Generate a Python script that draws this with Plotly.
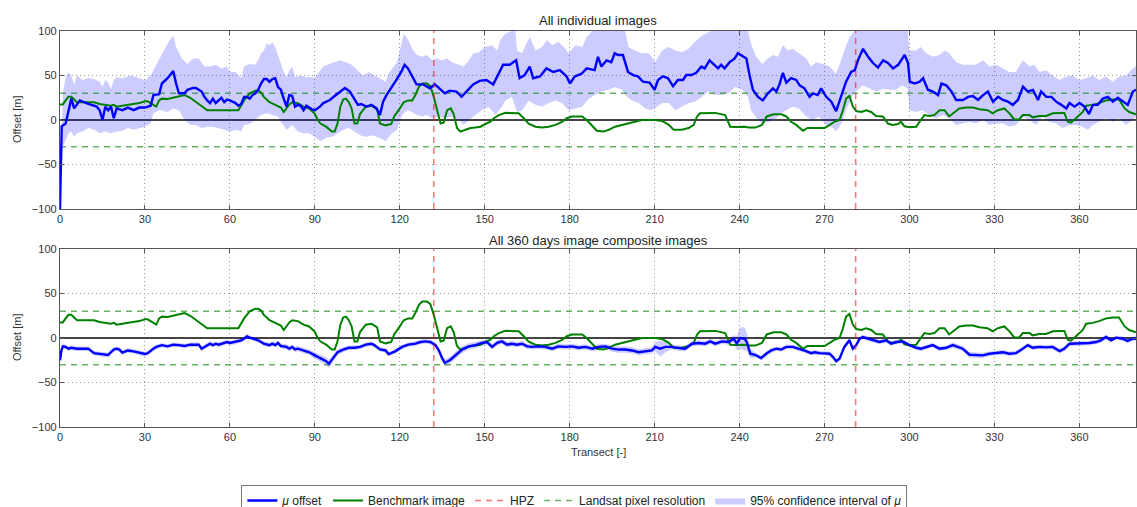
import plotly.graph_objects as go

# ---------------- data ----------------
transect_range = [0, 380]
hpz_positions = [132, 281]
landsat_res = 30

# Benchmark image offset (same in both panels)
bench_t = [0, 1, 2, 3, 4, 5, 6, 8, 10, 12,
           14, 16, 18, 19, 20, 22, 24, 26, 28, 30,
           31, 32, 34, 35, 36, 38, 40, 42, 44, 46,
           48, 50, 52, 63, 65, 67, 69, 70, 71, 72,
           74, 76, 78, 79, 80, 81, 82, 84, 86, 88,
           90, 91, 92, 94, 96, 97, 98, 99, 100, 101,
           102, 103, 104, 105, 106, 108, 110, 112, 113, 115,
           117, 118, 120, 121.4, 123, 124.4, 125.5, 126.7, 127.9, 129.6,
           130.8, 132, 133.2, 134.4, 135.5, 136.7, 138, 139, 140.2, 141.4,
           143.2, 145, 146.7, 148.5, 150.2, 152, 153.2, 155, 157.3, 159.6,
           162, 163.8, 165.5, 167.9, 170.2, 172.6, 175, 177.3, 179, 180.8,
           184.4, 186, 188, 189.6, 192, 193.8, 196, 198.5, 202, 205.5,
           210.2, 212.6, 215, 216.7, 219.6, 222, 223.8, 225, 226, 229,
           231.4, 234.9, 236.7, 238.5, 242, 243.2, 245.6, 247.9, 249.6, 252,
           254.7, 256.5, 258.2, 260, 262.4, 264, 270, 271.8, 273.5, 275.3,
           276.5, 277.6, 278.8, 280, 281.2, 283, 284.7, 286.5, 288.2, 290.6,
           292.4, 294, 296, 297, 298.2, 300, 302.4, 304, 305.3, 307,
           308.8, 310.6, 312.4, 314, 316, 317.6, 320, 322.4, 324.7, 327.6,
           329.4, 331.2, 333.5, 335.3, 337, 338.8, 340, 342.4, 343.5, 345.9,
           348.2, 350.6, 353, 354.7, 355.9, 357, 358.8, 361.2, 362.4, 364.7,
           367, 369.4, 371.8, 374, 376, 377.6, 380]
bench_v = [17.5, 17.5, 22, 26, 26, 23, 20, 20, 20, 20,
           18, 17, 16, 17, 15, 16, 17, 18, 19, 21,
           21, 19, 15, 22, 24, 23.5, 25, 27, 28, 25,
           20, 16, 11, 11, 22, 30, 33, 33, 31, 26,
           20, 17, 14, 9, 14, 17.5, 20, 19, 15, 13,
           7, 0, -4, -7.5, -13, -13, -4, 15, 23, 24,
           20, 13, -4, -4, 7, 15, 16, 12, -4, -6,
           -4.5, 4, 13, 20, 22, 22, 28, 37, 41, 41,
           38, 26, 11, -4, -3, 11, 13, 7, -9, -13,
           -11, -9, -8.5, -7.5, -4.5, -2, 2, 5.5, 8, 8,
           7.5, 2, -4, -7.5, -8.5, -7.5, -5.5, -2, 2, 4,
           4, 0, -7, -12, -13, -11, -7.5, -5.5, -2, 0,
           0, -1, -5.5, -11, -11, -9, -5.5, 4, 7.5, 8,
           8, 5.5, -7.5, -8, -7.5, -8.5, -8.5, -5.5, 4, 6.5,
           6.5, 4, -2, -5.5, -12, -9, -9, -5.5, -2, 0,
           11, 24, 27, 15, 10, 9, 11, 9, 4.5, 4,
           -4, -5.5, -4.5, -2, -7, -8, -7.5, 0, 5.5, 4.5,
           5.5, 11, 11, 4, 9, 13, 14, 14, 12, 11,
           7.5, 11, 13, 7.5, 0.7, 0.7, 5.5, 5.5, 3, 4.5,
           4.5, 7.5, 8, 8, -2, -3, 2, 9, 16, 17,
           19, 22, 23, 23, 13, 9, 6.5]

# Top panel: mean offset (mu) of all individual images
top_mu_t = [0, 0.6, 2, 4, 5, 7, 10, 12, 13, 14,
            15, 16, 17, 18, 19, 20, 22, 24, 26, 28,
            30, 32, 33, 35, 36, 38, 40, 41, 42, 44,
            45, 47, 48, 50, 51, 52, 53, 54, 55, 56,
            57, 58, 59, 60, 62, 63, 64, 65, 66, 67,
            68, 69, 70, 71, 72, 73, 74, 75, 76, 77,
            78, 79, 80, 81, 82, 83, 84, 85, 86, 87,
            88, 89, 90, 91.8, 93, 95.3, 97, 98.8, 100.6, 102.4,
            104, 105.2, 106.4, 108.2, 110, 111.8, 113, 114.1, 115.3, 117,
            118.8, 120.5, 121.7, 122.9, 124.7, 125.9, 128.3, 130.6, 132.4, 134.1,
            135.9, 137.6, 140, 141.8, 143.5, 145.9, 148.2, 150.6, 153, 154.2,
            156.5, 158.8, 161.1, 162.3, 164.1, 165.9, 167.1, 169.5, 171.8, 174.2,
            176.5, 178.9, 180.1, 181.8, 184.2, 186, 188.8, 190, 191.2, 193,
            194.7, 195.9, 197.1, 198.8, 200.6, 202.4, 204.1, 205.9, 208.2, 210,
            211.2, 212.9, 214.7, 216.5, 218.2, 220, 221.2, 223, 224.7, 226.5,
            227.7, 229.4, 231.2, 232.4, 233.5, 234.7, 236.5, 238.2, 239.4, 241.2,
            242.4, 243.5, 244.7, 246.5, 248.2, 250, 251.8, 253, 254.1, 255.3,
            256.5, 258.2, 260, 261.2, 262.9, 264.7, 265.9, 267.6, 268.8, 270.6,
            272.4, 274.1, 275.9, 277.6, 279.4, 280.7, 281.8, 283.6, 285.4, 287.1,
            288.9, 290.7, 292.4, 294.2, 296, 298.3, 299.5, 300.1, 301.8, 303.6,
            304.8, 306.5, 308.3, 310.1, 311.3, 313, 314.8, 316.5, 318.9, 320.7,
            322.4, 324.2, 326, 327.7, 329.5, 331.3, 333, 334.8, 336.5, 338.3,
            340.1, 341.8, 343.6, 345.4, 346.5, 348.3, 350.1, 351.8, 353.6, 355.4,
            356.5, 358.3, 360.1, 361.8, 363.4, 364.8, 366.5, 368.3, 370.1, 371.8,
            373.6, 375.4, 377.1, 378.9, 380]
top_mu_v = [-100, -7, -4, 24, 13, 22, 18, 16, 15, 11,
            0, 15, 11, 15, 2, 13, 11, 14, 11, 14,
            14, 16, 28, 29, 41, 47, 55, 41, 30, 30,
            34, 36, 36, 32, 26, 22, 19, 24, 19, 22,
            25, 20, 23, 22, 19, 16, 18, 26, 26, 24,
            28, 30, 34, 41, 46, 46, 43, 46, 47, 37,
            34, 24, 15, 28, 27, 15, 17, 16, 11, 16,
            14, 12, 11, 15, 19, 22.5, 27, 32, 36, 32,
            22.5, 17, 18, 15, 17, 13, 5.6, 20.6, 28, 35.6,
            45, 54, 62, 58, 47, 40, 40, 35.6, 40, 35.6,
            30, 33, 32, 26, 32, 40, 44, 45, 40, 47,
            62, 62, 67, 47, 50.5, 60, 47, 49, 58, 54,
            56, 49, 41, 49, 52, 58, 56, 71, 60, 67,
            65, 75, 73, 73, 54, 50.5, 49, 43, 42, 34,
            45, 49, 47, 38, 45, 45, 50.5, 50.5, 53, 60,
            58, 67, 62, 58, 62, 58, 65, 69, 75, 71,
            69, 50.5, 34, 26, 22, 30, 35.6, 32, 40, 53,
            42, 47, 45, 39, 35.6, 26, 30, 28, 35.6, 26,
            20.6, 10, 28, 43, 54, 56, 67, 80, 71, 64,
            59, 67, 64, 58, 62, 73, 64, 43, 41, 43,
            47, 34, 32, 28, 41, 39, 32, 22.5, 22.5, 26,
            27, 22.5, 28, 32, 20.6, 26, 22.5, 20.6, 17, 22.5,
            37.5, 32, 33.7, 22.5, 32, 26, 26, 20.6, 17, 13,
            19, 15, 19, 15, 6.7, 17, 17, 24, 26, 20.6,
            25, 20.6, 17, 32, 34]

# Top panel: 95% confidence interval of mu (upper / lower bounds)
top_hi_t = [0, 1, 2, 3, 4, 5, 6, 8, 10, 12,
            14, 15, 16, 17, 18, 19, 20, 22, 25, 28,
            30, 32, 34, 36, 38, 40, 41, 43, 45, 47,
            49, 51, 53, 55, 57, 59, 60, 62, 64, 65,
            67, 69, 70, 71, 72, 73, 74, 75, 76, 77,
            78, 79, 80, 81, 82, 83, 85, 87, 89, 90,
            91, 93, 95, 97, 99, 101, 103, 105, 107, 109,
            111, 113, 115, 116, 118, 119, 120.2, 121.4, 123, 124.4,
            126, 128, 129.6, 131.4, 133, 135, 136.7, 138.5, 140.8, 142.6,
            144.4, 146, 148, 150, 152.6, 154.4, 155.5, 157.3, 159.6, 160.8,
            161.4, 163.2, 165, 166, 167.9, 170.2, 172, 173.8, 176, 177.9,
            179.6, 182, 184.4, 186, 188, 199.6, 200.8, 203, 205.5, 208,
            210.2, 212.6, 215, 217.3, 219.6, 222, 224.3, 226, 228, 230,
            243, 244, 245.9, 248, 250, 251.8, 253.5, 255.3, 257, 258.8,
            261, 263.5, 265.3, 267, 269.4, 271.8, 274, 275.3, 277, 278.8,
            280.6, 299.4, 300, 302.4, 304, 305.9, 308.2, 310.6, 312.4, 314,
            316.5, 318.8, 321, 323.5, 326, 328.2, 330.6, 333, 335.3, 337.6,
            340, 342.4, 344, 346, 348.2, 350.6, 353, 355.3, 357.6, 360,
            362.4, 364.7, 367, 369.4, 371.8, 374, 376.5, 378.8, 380]
top_hi_v = [-100, 30, 48, 54, 50, 39, 50, 45, 47, 46,
            43, 37, 45, 42, 35, 45, 48, 47, 50, 47,
            45, 50, 62, 73, 86, 95, 82, 69, 63, 69,
            69, 60, 60, 62, 58, 60, 54, 54, 47, 60,
            63, 62, 67, 75, 78, 86, 84, 87, 82, 73,
            62, 54, 48, 56, 60, 48, 50, 48, 48, 47,
            52, 60, 63, 65, 67, 65, 62, 56, 50, 54,
            50, 47, 43, 52, 60, 65, 80, 97, 90, 80,
            73, 71, 73, 67, 69, 67, 69, 65, 62, 60,
            67, 75, 76, 82, 84, 78, 90, 97, 100, 100,
            78, 75, 88, 93, 78, 82, 90, 84, 88, 82,
            75, 84, 82, 93, 100, 100, 82, 78, 75, 75,
            65, 78, 82, 78, 76, 80, 88, 93, 97, 100,
            100, 86, 71, 63, 69, 73, 71, 84, 78, 80,
            75, 69, 60, 65, 63, 60, 52, 62, 78, 93,
            100, 100, 78, 78, 82, 75, 71, 73, 78, 75,
            65, 62, 62, 62, 67, 60, 62, 58, 54, 54,
            67, 60, 62, 54, 56, 50, 45, 49, 50, 45,
            47, 50, 45, 49, 43, 49, 50, 58, 60]
top_lo_t = [0, 1, 2, 3, 4, 5, 6, 8, 10, 12,
            14, 16, 18, 20, 22, 24, 26, 28, 30, 32,
            33, 35, 36, 38, 40, 42, 44, 46, 48, 50,
            52, 54, 56, 58, 60, 62, 64, 65, 67, 69,
            71, 73, 75, 77, 78, 80, 82, 84, 86, 88,
            90, 92, 94, 96, 98, 100, 102, 104, 106, 108,
            110, 112, 114, 115, 116, 117.3, 119, 120.8, 122.6, 124.4,
            126, 128, 129.6, 131.4, 133.8, 136, 138.5, 140.8, 142.6, 144.4,
            146.7, 149, 151.4, 153.8, 156, 157.3, 159.6, 161.4, 163.2, 165.5,
            167.9, 170.2, 172.6, 175, 177.3, 179.6, 182, 184.4, 186.7, 189,
            191.4, 193.8, 196, 198.5, 200.2, 202, 204.4, 206.7, 209, 210.8,
            212.6, 215, 217.3, 219.6, 222, 224.3, 226.7, 229, 231.4, 233.8,
            236, 238.5, 240.8, 243, 244, 246, 248, 250.6, 253, 254.7,
            256.5, 258.8, 261, 263.5, 265.9, 268, 270.6, 273, 274, 276,
            277.6, 280, 281.8, 283.5, 285.9, 288.2, 290.6, 293, 295.3, 297.6,
            299.4, 300, 302.4, 304.7, 307, 309.4, 311.8, 314, 316.5, 318.8,
            321, 323.5, 326, 328.2, 330.6, 333, 335.3, 337.6, 340, 342.4,
            344.7, 347, 349.4, 351.8, 354, 356.5, 358.8, 361.2, 363, 364.7,
            367, 369.4, 371.8, 374, 376.5, 378.8, 380]
top_lo_v = [-100, -30, -22, -15, -13, -19, -15, -13, -9, -11,
            -15, -13, -15, -13, -12, -9, -11, -9, -7.5, -4,
            7.5, 11, 11, 9, 13, 11, 0, -5.5, -5.5, -9,
            -7.5, -7.5, -9, -11, -13, -11, -13, -5.5, -4.5, 0,
            5.5, 7.5, 5.5, 4, -2, -11, -5.5, -13, -15, -15,
            -19, -24, -20, -19, -15, -11, -9, -13, -17, -19,
            -17, -19, -22, -24, -20, -15, -11, 5.5, 11, 9,
            5.5, 4, 5.5, 2, 4, 2, 4, 0, -5.5, 0,
            5.5, 11, 15, 5.5, 15, 22, 26, 9, 11, 22,
            17, 15, 19, 22, 19, 11, 13, 15, 24, 28,
            32, 34, 37, 34, 26, 22, 19, 13, 11, 15,
            19, 19, 11, 15, 19, 20.5, 26, 32, 28, 28,
            30, 37, 34, 26, 11, 2, -4, -2, 2, 7.5,
            11, 15, 13, 4, 0, 4, -5.5, -9, -13, -4,
            11, 28, 34, 39, 35, 32, 35, 34, 34, 39,
            35, 11, 9, 11, 5.5, 2, 5.5, 2, -5.5, -4,
            -2, -4, 0, -5.5, -4, -4, -7.5, -5.5, 4, 0,
            -5.5, 4, -2, -4, -9, -5.5, -5.5, -7.5, -11, -5.5,
            -2, 2, -2, 2, -5.5, 0, 4]

# Bottom panel: mean offset (mu) of the 360-day composites and CI half width
bot_t = [0, 0.5, 1, 2, 3, 4, 6, 8, 10, 12,
         14, 16, 17, 18, 19, 20, 21, 22, 23, 24,
         26, 28, 29, 30, 31, 32, 33, 34, 35, 36,
         38, 40, 42, 44, 46, 48, 49, 50, 51, 52,
         53, 54, 55, 56, 58, 59, 60, 62, 64, 65,
         66, 67, 68, 70, 72, 74, 75, 76, 77, 78,
         80, 81, 82, 83, 84, 86, 88, 90, 92, 94,
         95, 96, 97, 98, 100, 102, 104, 106, 108, 110,
         111, 112, 113, 115, 116, 117, 118.5, 120.8, 123, 125.5,
         127.3, 129, 130.8, 132.6, 133.8, 135, 135.9, 137.9, 140.2, 142,
         144.4, 146.7, 149, 150.8, 152.6, 154.4, 156.1, 157.9, 159.6, 161.4,
         163.2, 165, 166.7, 169, 171.4, 173.8, 176, 178.5, 180.8, 183.2,
         185.5, 188, 190.2, 192.6, 195, 197.3, 199.6, 202, 204.4, 206.7,
         209, 210.2, 212, 213.8, 216, 218.5, 220.8, 223.2, 225.5, 227.9,
         229.6, 231.4, 233.8, 236.1, 237.9, 239, 240.2, 241.8, 242.6, 243.8,
         245.9, 247.6, 249.4, 251.2, 253, 254.7, 256.5, 258.8, 261, 263.5,
         265.3, 266.5, 268.2, 270, 271.8, 273, 274.1, 275.3, 277, 278.8,
         280, 281.2, 282.4, 283.5, 285.3, 287, 289.4, 291.8, 293.5, 295.3,
         297.6, 300, 302.4, 304.1, 305.9, 308.2, 310.6, 313, 315.3, 317,
         318.8, 321.2, 323.5, 325.9, 328.2, 330.6, 333, 335.3, 337.6, 340,
         341.8, 343.5, 345.9, 348.2, 350.6, 353, 354.7, 356.5, 358.8, 361.2,
         363.5, 365.9, 367.6, 369.4, 371.2, 373, 375.3, 377, 378.8, 380]
bot_mu = [-25, -14, -9.4, -10, -12, -11, -12, -12, -12, -17,
          -18, -19, -19, -16, -13, -12, -13, -16.5, -15, -14,
          -15, -16.5, -18, -18, -17, -14, -12, -10, -9.4, -8,
          -9.4, -7.5, -8, -9, -7.5, -8, -7.5, -12, -10, -8,
          -6.4, -8, -6.4, -7.5, -5.6, -4.5, -5.6, -4.5, -2.6, -0.8,
          1.9, 0.4, -0.8, -2.6, -6.4, -8, -6.4, -8, -5.6, -9,
          -10, -12, -10, -12.8, -12, -14, -16, -19.5, -23, -26,
          -29, -25, -20.7, -16, -13, -11, -11, -10, -7.5, -6.4,
          -8, -10, -12.8, -14, -18, -17, -14.7, -10, -7.5, -6.4,
          -4.5, -3.8, -4.5, -8, -14, -23, -28, -24.4, -18.4, -13,
          -9.4, -8, -5.6, -4.5, -10, -5.3, -3.8, -7.5, -6.4, -7.5,
          -6.4, -9.4, -10, -9.4, -10, -12, -9.4, -10, -9.4, -11,
          -10, -12, -10, -9.4, -12, -13, -13, -14, -16, -14.7,
          -14, -10, -12, -10, -10, -11.3, -12, -6.4, -5.6, -6.4,
          -3.8, -6.4, -3.8, -4.5, -0.8, -6, 0, -0.8, -5, -17.7,
          -19.5, -22.6, -17.7, -14, -12, -13, -10, -10, -12, -14.7,
          -17, -16, -17, -17, -17.7, -21.4, -26, -23.3, -10, -2.6,
          -12, -8, -0.8, 1.1, -0.8, -2.6, -4.5, -2.6, -6.4, -4.5,
          -3.8, -8, -11, -12, -10, -8, -12, -11, -8, -10,
          -12, -18.8, -18.8, -19.5, -17.7, -17, -16, -17.7, -17, -12,
          -8, -11, -10, -10.5, -10, -14.7, -12, -6.4, -6.4, -6.4,
          -5.6, -4.5, -2.6, 1.1, -2.6, 0.4, -0.8, -3.4, -0.8, -0.8]
bot_ci_hw = [3, 3, 3, 2.5, 2.5, 2.5, 2.5, 2.5, 2.5, 2.5,
             2.5, 2.5, 2.5, 2.5, 2.5, 2.5, 2.5, 2.5, 2.5, 2.5,
             2.5, 2.5, 2.5, 2.5, 2.5, 2.5, 2.5, 2.5, 2.5, 2.5,
             2.5, 2.5, 2.5, 2.5, 2.5, 2.5, 2.5, 2.5, 2.5, 2.5,
             2.5, 2.5, 2.5, 2.5, 2.5, 2.5, 2.5, 2.5, 2.5, 2.5,
             2.5, 2.5, 2.5, 2.5, 2.5, 2.5, 2.5, 2.5, 2.5, 2.5,
             3, 3, 3, 3, 3, 3, 3, 3.5, 4, 4.5,
             4.5, 4, 3.5, 3, 3, 2.5, 2.5, 2.5, 2.5, 2.5,
             2.5, 2.5, 2.5, 2.5, 2.5, 2.5, 2.5, 2.5, 2.5, 2.5,
             2.5, 2.5, 2.5, 2.5, 3, 3.5, 4, 4, 4, 4,
             3.5, 3.5, 3, 3, 3, 3, 3, 3, 3, 3,
             3, 3, 3, 3, 3, 3, 3, 3, 3, 3,
             3, 3, 3, 3, 3.5, 3.5, 3.5, 3.5, 3.5, 3.5,
             3.5, 5, 9, 6, 3, 3, 3, 3, 3, 3,
             3, 3, 3, 3, 4, 8, 12, 13, 10, 5,
             2.5, 2.5, 2.5, 2.5, 2.5, 2.5, 2.5, 2.5, 2.5, 2.5,
             2.5, 2.5, 2.5, 2.5, 2.5, 2.5, 2.5, 2.5, 2.5, 2.5,
             2.5, 2.5, 2.5, 2.5, 2.5, 2.5, 2.5, 2.5, 2.5, 2.5,
             2.5, 2.5, 2.5, 2.5, 2.5, 2.5, 2.5, 2.5, 3, 3,
             3, 3, 3, 3, 2.5, 2.5, 2.5, 2.5, 2.5, 2.5,
             2.5, 2.5, 2.5, 2.5, 2.5, 2.5, 2.5, 2.5, 2.5, 2.5,
             2.5, 2.5, 2.5, 2.5, 2.5, 2.5, 2.5, 2.5, 2.5, 2.5]

assert len(bench_t) == len(bench_v)
assert len(top_mu_t) == len(top_mu_v)
assert len(top_hi_t) == len(top_hi_v)
assert len(top_lo_t) == len(top_lo_v)
assert len(bot_t) == len(bot_mu) == len(bot_ci_hw)

panel_titles = ["All individual images", "All 360 days image composite images"]
legend_names = ["<i>\u03bc</i> offset", "Benchmark image", "HPZ",
                "Landsat pixel resolution", "95% confidence interval of <i>\u03bc</i>"]

# ---------------- styling ----------------
BLUE = "#0000ff"
GREEN = "#008000"
BAND = "rgba(0,0,255,0.2)"
RED_DASH = "rgba(255,0,0,0.55)"
GREEN_DASH = "rgba(0,128,0,0.6)"
FONT = "Liberation Sans Narrow, Liberation Sans, Arial, sans-serif"

fig = go.Figure()

panels = [("x", "y"), ("x2", "y2")]

for i, (xa, ya) in enumerate(panels):
    first = (i == 0)
    # confidence band
    if first:
        band_x = top_hi_t + top_lo_t[::-1]
        band_y = top_hi_v + top_lo_v[::-1]
    else:
        hi = [m + h for m, h in zip(bot_mu, bot_ci_hw)]
        lo = [m - h for m, h in zip(bot_mu, bot_ci_hw)]
        band_x = bot_t + bot_t[::-1]
        band_y = hi + lo[::-1]
    fig.add_trace(go.Scatter(x=band_x, y=band_y, fill="toself", fillcolor=BAND,
                             line=dict(width=0, color="rgba(0,0,0,0)"), mode="lines",
                             name=legend_names[4], legendrank=5, showlegend=first,
                             hoverinfo="skip", xaxis=xa, yaxis=ya))
    # landsat resolution
    fig.add_trace(go.Scatter(x=[transect_range[0], transect_range[1], None,
                                transect_range[0], transect_range[1]],
                             y=[landsat_res, landsat_res, None, -landsat_res, -landsat_res],
                             mode="lines", line=dict(color=GREEN_DASH, width=1.5, dash="6px,5px"),
                             name=legend_names[3], legendrank=4, showlegend=first,
                             xaxis=xa, yaxis=ya))
    # benchmark
    fig.add_trace(go.Scatter(x=bench_t, y=bench_v, mode="lines",
                             line=dict(color=GREEN, width=2),
                             name=legend_names[1], legendrank=2, showlegend=first,
                             xaxis=xa, yaxis=ya))
    # mu offset
    mu_t = top_mu_t if first else bot_t
    mu_v = top_mu_v if first else bot_mu
    fig.add_trace(go.Scatter(x=mu_t, y=mu_v, mode="lines",
                             line=dict(color=BLUE, width=2.4),
                             name=legend_names[0], legendrank=1, showlegend=first,
                             xaxis=xa, yaxis=ya))
    # HPZ
    hx, hy = [], []
    for p in hpz_positions:
        hx += [p, p, None]
        hy += [-100, 100, None]
    fig.add_trace(go.Scatter(x=hx, y=hy, mode="lines",
                             line=dict(color=RED_DASH, width=1.5, dash="6px,5px"),
                             name=legend_names[2], legendrank=3, showlegend=first,
                             xaxis=xa, yaxis=ya))

axis_common = dict(showline=True, linecolor="#555", linewidth=1.3, mirror="ticks",
                   ticks="inside", ticklen=4, tickcolor="#555",
                   showgrid=True, gridcolor="#9a9a9a", griddash="1px,3px", gridwidth=1,
                   tickfont=dict(family=FONT, size=11, color="#333"))

H_PAPER = 396.0
top_dom = [(427 - 209) / H_PAPER, 1.0]
bot_dom = [0.0, (427 - 249) / H_PAPER]

fig.update_layout(
    width=1137, height=507,
    margin=dict(l=60, r=1, t=31, b=80, autoexpand=False),
    paper_bgcolor="white", plot_bgcolor="white",
    font=dict(family=FONT, size=11, color="#333"),
    xaxis=dict(domain=[0, 1], range=transect_range, tick0=0, dtick=30, anchor="y", **axis_common),
    yaxis=dict(domain=top_dom, range=[-100, 100], tickvals=[-100, -50, 0, 50, 100], anchor="x",
               zeroline=True, zerolinecolor="#444", zerolinewidth=1.6, **axis_common),
    xaxis2=dict(domain=[0, 1], range=transect_range, tick0=0, dtick=30, anchor="y2", **axis_common),
    yaxis2=dict(domain=bot_dom, range=[-100, 100], tickvals=[-100, -50, 0, 50, 100], anchor="x2",
                zeroline=True, zerolinecolor="#444", zerolinewidth=1.6, **axis_common),
    showlegend=True,
    legend=dict(orientation="h", x=0.478, xanchor="center", y=(427 - 485) / H_PAPER, yanchor="top",
                bordercolor="#777", borderwidth=1, bgcolor="white",
                font=dict(family=FONT, size=12, color="#222"), itemwidth=30,
                traceorder="normal"),
    annotations=[
        dict(text=panel_titles[0], xref="paper", yref="paper", x=0.5, y=(427 - 20) / H_PAPER,
             xanchor="center", yanchor="middle",
             showarrow=False, font=dict(family=FONT, size=13, color="#222")),
        dict(text=panel_titles[1], xref="paper", yref="paper", x=0.5, y=(427 - 240) / H_PAPER,
             xanchor="center", yanchor="middle",
             showarrow=False, font=dict(family=FONT, size=13, color="#222")),
        dict(text="Offset [m]", xref="paper", yref="paper", x=(17 - 60) / 1077.0, y=(427 - 120) / H_PAPER,
             xanchor="center", yanchor="middle",
             textangle=-90, showarrow=False, font=dict(family=FONT, size=11, color="#333")),
        dict(text="Offset [m]", xref="paper", yref="paper", x=(17 - 60) / 1077.0, y=(427 - 338) / H_PAPER,
             xanchor="center", yanchor="middle",
             textangle=-90, showarrow=False, font=dict(family=FONT, size=11, color="#333")),
        dict(text="Transect [-]", xref="paper", yref="paper", x=0.5, y=(427 - 452) / H_PAPER,
             xanchor="center", yanchor="middle",
             showarrow=False, font=dict(family=FONT, size=11, color="#333")),
    ],
)

fig.write_html("out.html", config={"displayModeBar": False},
               post_script="document.body.style.margin='0px';")
